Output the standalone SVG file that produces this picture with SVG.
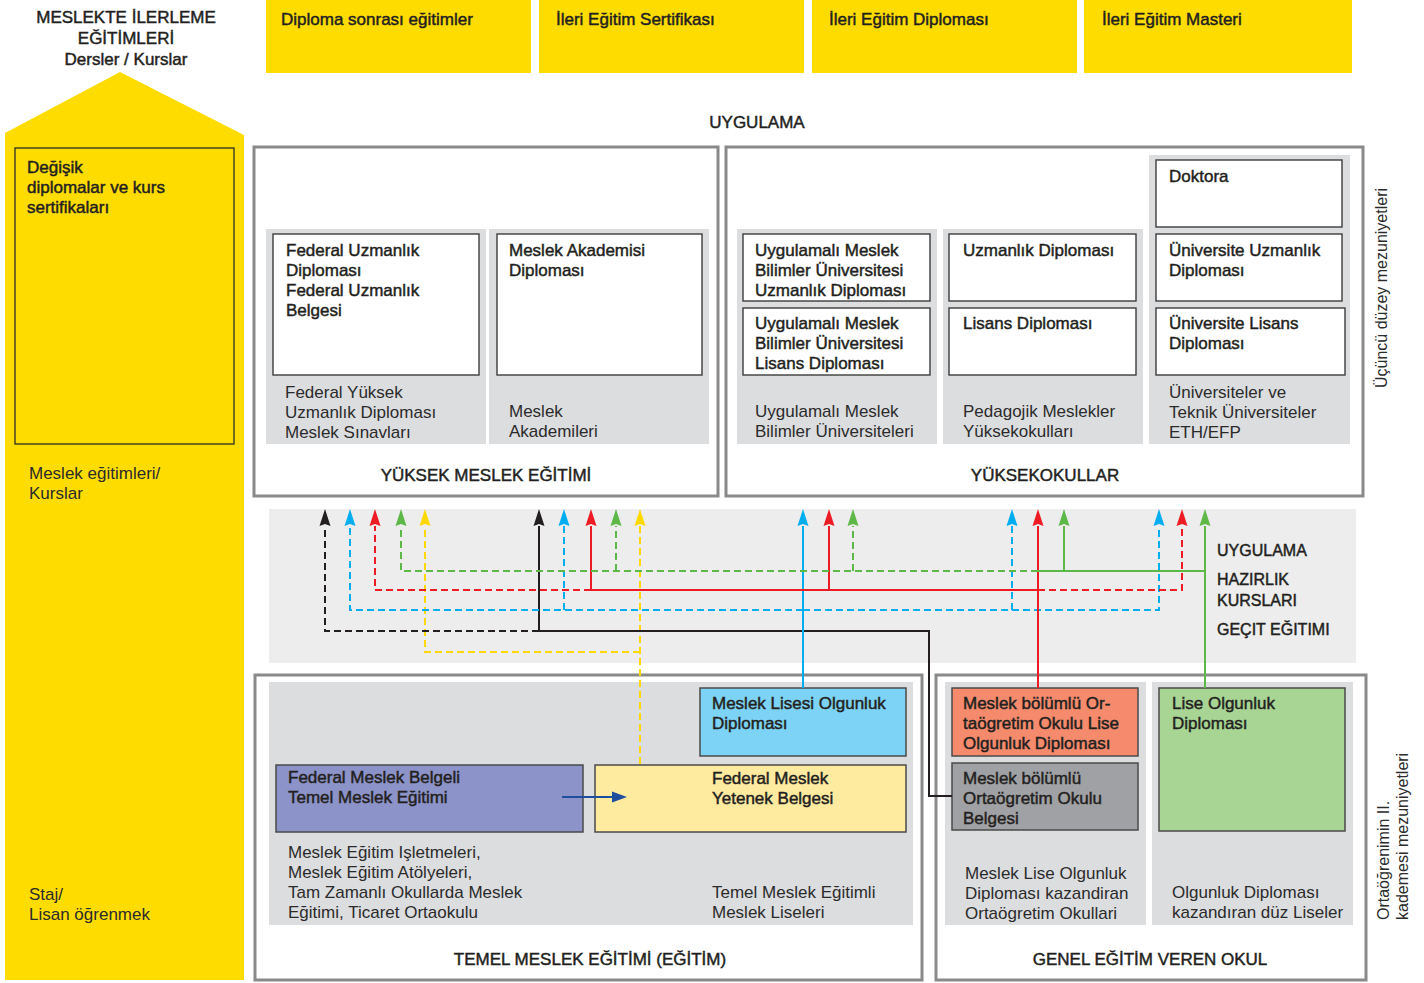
<svg xmlns="http://www.w3.org/2000/svg" width="1424" height="983" viewBox="0 0 1424 983">
<defs>
<style>
text{font-family:"Liberation Sans",Arial,sans-serif;font-size:17px;fill:#231f20}
.m{stroke:#231f20;stroke-width:0.45}
.r{fill:#2b2b2b}
.c{text-anchor:middle}
.s16{font-size:16px}
.frame{fill:#fff;stroke:#8a8a8a;stroke-width:3}
.panel{fill:#dcdddf}
.wbox{fill:#fff;stroke:#3c3c3c;stroke-width:1.4}
.cbox{stroke:#4a4a4a;stroke-width:1.5}
.ln{fill:none;stroke-width:2}
.d{stroke-dasharray:7 4}
.k{stroke:#231f20}.b{stroke:#00aeef}.rd{stroke:#ed1c24}.g{stroke:#5db847}.y{stroke:#ffd800}
</style>
<marker id="ak" viewBox="0 0 17 12" refX="0" refY="6" markerWidth="17" markerHeight="12" markerUnits="userSpaceOnUse" orient="auto"><path d="M0,0.5 L17,6 L0,11.5 L2,6 Z" fill="#231f20"/></marker>
<marker id="ab" viewBox="0 0 17 12" refX="0" refY="6" markerWidth="17" markerHeight="12" markerUnits="userSpaceOnUse" orient="auto"><path d="M0,0.5 L17,6 L0,11.5 L2,6 Z" fill="#00aeef"/></marker>
<marker id="ar" viewBox="0 0 17 12" refX="0" refY="6" markerWidth="17" markerHeight="12" markerUnits="userSpaceOnUse" orient="auto"><path d="M0,0.5 L17,6 L0,11.5 L2,6 Z" fill="#ed1c24"/></marker>
<marker id="ag" viewBox="0 0 17 12" refX="0" refY="6" markerWidth="17" markerHeight="12" markerUnits="userSpaceOnUse" orient="auto"><path d="M0,0.5 L17,6 L0,11.5 L2,6 Z" fill="#5db847"/></marker>
<marker id="ay" viewBox="0 0 17 12" refX="0" refY="6" markerWidth="17" markerHeight="12" markerUnits="userSpaceOnUse" orient="auto"><path d="M0,0.5 L17,6 L0,11.5 L2,6 Z" fill="#ffd800"/></marker>
<marker id="an" viewBox="0 0 15 12" refX="0" refY="6" markerWidth="15" markerHeight="12" markerUnits="userSpaceOnUse" orient="auto"><path d="M0,0.5 L15,6 L0,11.5 Z" fill="#1f4e9e"/></marker>
</defs>
<rect width="1424" height="983" fill="#fff"/>

<!-- left yellow column -->
<g id="left-column">
<path d="M5,133 L120,72 L244,135 L244,980 L5,980 Z" fill="#ffdc00"/>
<text class="m c" x="126" y="23">MESLEKTE İLERLEME</text>
<text class="m c" x="126" y="44">EĞİTİMLERİ</text>
<text class="m c" x="126" y="65">Dersler / Kurslar</text>
</g>
<g id="node-degisik">
<rect x="15" y="148" width="219" height="296" fill="none" stroke="#2b2b2b" stroke-width="1.3"/>
<text class="m" x="27" y="173">Değişik</text>
<text class="m" x="27" y="193">diplomalar ve kurs</text>
<text class="m" x="27" y="213">sertifikaları</text>
</g>
<g id="label-meslek-egitimleri">
<text class="r" x="29" y="479">Meslek eğitimleri/</text>
<text class="r" x="29" y="499">Kurslar</text>
</g>
<g id="label-staj">
<text class="r" x="29" y="900">Staj/</text>
<text class="r" x="29" y="920">Lisan öğrenmek</text>
</g>

<!-- top yellow boxes -->
<g id="node-diploma-sonrasi"><rect x="266" y="0" width="265" height="73" fill="#ffdc00"/><text class="m" x="281" y="25">Diploma sonrası eğitimler</text></g>
<g id="node-ileri-sertifika"><rect x="539" y="0" width="265" height="73" fill="#ffdc00"/><text class="m" x="556" y="25">İleri Eğitim Sertifikası</text></g>
<g id="node-ileri-diploma"><rect x="812" y="0" width="265" height="73" fill="#ffdc00"/><text class="m" x="829" y="25">İleri Eğitim Diploması</text></g>
<g id="node-ileri-master"><rect x="1084" y="0" width="268" height="73" fill="#ffdc00"/><text class="m" x="1102" y="25">İleri Eğitim Masteri</text></g>

<text class="m c" x="757" y="128">UYGULAMA</text>

<!-- Yüksek Meslek Eğitimi -->
<g id="group-yuksek-meslek">
<rect class="frame" x="254" y="147" width="464" height="349"/>
<rect class="panel" x="266" y="229" width="220" height="215"/>
<rect class="panel" x="489" y="229" width="220" height="215"/>
<text class="m c" x="486" y="481">YÜKSEK MESLEK EĞİTİMİ</text>
<text class="r" x="285" y="398">Federal Yüksek</text>
<text class="r" x="285" y="418">Uzmanlık Diploması</text>
<text class="r" x="285" y="438">Meslek Sınavları</text>
<text class="r" x="509" y="417">Meslek</text>
<text class="r" x="509" y="437">Akademileri</text>
</g>
<g id="node-federal-uzmanlik">
<rect class="wbox" x="273" y="234" width="206" height="141"/>
<text class="m" x="286" y="256">Federal Uzmanlık</text>
<text class="m" x="286" y="276">Diploması</text>
<text class="m" x="286" y="296">Federal Uzmanlık</text>
<text class="m" x="286" y="316">Belgesi</text>
</g>
<g id="node-meslek-akademisi">
<rect class="wbox" x="497" y="234" width="205" height="141"/>
<text class="m" x="509" y="256">Meslek Akademisi</text>
<text class="m" x="509" y="276">Diploması</text>
</g>

<!-- Yüksekokullar -->
<g id="group-yuksekokullar">
<rect class="frame" x="726" y="147" width="637" height="349"/>
<rect class="panel" x="737" y="229" width="200" height="215"/>
<rect class="panel" x="943" y="229" width="200" height="215"/>
<rect class="panel" x="1149" y="155" width="201" height="289"/>
<text class="m c" x="1045" y="481">YÜKSEKOKULLAR</text>
<text class="r" x="755" y="417">Uygulamalı Meslek</text>
<text class="r" x="755" y="437">Bilimler Üniversiteleri</text>
<text class="r" x="963" y="417">Pedagojik Meslekler</text>
<text class="r" x="963" y="437">Yüksekokulları</text>
<text class="r" x="1169" y="398">Üniversiteler ve</text>
<text class="r" x="1169" y="418">Teknik Üniversiteler</text>
<text class="r" x="1169" y="438">ETH/EFP</text>
</g>
<g id="node-ums-uzmanlik">
<rect class="wbox" x="743" y="234" width="187" height="67"/>
<text class="m" x="755" y="256">Uygulamalı Meslek</text>
<text class="m" x="755" y="276">Bilimler Üniversitesi</text>
<text class="m" x="755" y="296">Uzmanlık Diploması</text>
</g>
<g id="node-ums-lisans">
<rect class="wbox" x="743" y="308" width="187" height="67"/>
<text class="m" x="755" y="329">Uygulamalı Meslek</text>
<text class="m" x="755" y="349">Bilimler Üniversitesi</text>
<text class="m" x="755" y="369">Lisans Diploması</text>
</g>
<g id="node-uzmanlik-diplomasi">
<rect class="wbox" x="949" y="234" width="187" height="67"/>
<text class="m" x="963" y="256">Uzmanlık Diploması</text>
</g>
<g id="node-lisans-diplomasi">
<rect class="wbox" x="949" y="308" width="187" height="67"/>
<text class="m" x="963" y="329">Lisans Diploması</text>
</g>
<g id="node-doktora">
<rect class="wbox" x="1156" y="160" width="186" height="67"/>
<text class="m" x="1169" y="182">Doktora</text>
</g>
<g id="node-uni-uzmanlik">
<rect class="wbox" x="1156" y="234" width="186" height="67"/>
<text class="m" x="1169" y="256">Üniversite Uzmanlık</text>
<text class="m" x="1169" y="276">Diploması</text>
</g>
<g id="node-uni-lisans">
<rect class="wbox" x="1156" y="308" width="189" height="67"/>
<text class="m" x="1169" y="329">Üniversite Lisans</text>
<text class="m" x="1169" y="349">Diploması</text>
</g>

<text class="r s16" transform="translate(1387,288) rotate(-90)" text-anchor="middle">Üçüncü düzey mezuniyetleri</text>

<!-- middle band -->
<g id="band">
<rect x="269" y="509" width="1087" height="154" fill="#ededed"/>
<text class="m s16" x="1217" y="556">UYGULAMA</text>
<text class="m s16" x="1217" y="585">HAZIRLIK</text>
<text class="m s16" x="1217" y="606">KURSLARI</text>
<text class="m s16" x="1217" y="635">GEÇIT EĞITIMI</text>
</g>

<!-- lower left -->
<g id="group-temel-meslek">
<rect class="frame" x="255" y="675" width="667" height="305"/>
<rect class="panel" x="269" y="682" width="644" height="243"/>
<text class="m c" x="590" y="965">TEMEL MESLEK EĞİTİMİ (EĞİTİM)</text>
<text class="r" x="288" y="858">Meslek Eğitim Işletmeleri,</text>
<text class="r" x="288" y="878">Meslek Eğitim Atölyeleri,</text>
<text class="r" x="288" y="898">Tam Zamanlı Okullarda Meslek</text>
<text class="r" x="288" y="918">Eğitimi, Ticaret Ortaokulu</text>
<text class="r" x="712" y="898">Temel Meslek Eğitimli</text>
<text class="r" x="712" y="918">Meslek Liseleri</text>
</g>
<g id="node-meslek-lisesi-olgunluk">
<rect class="cbox" x="700" y="688" width="206" height="68" fill="#7dd3f5"/>
<text class="m" x="712" y="709">Meslek Lisesi Olgunluk</text>
<text class="m" x="712" y="729">Diploması</text>
</g>
<g id="node-federal-meslek-belgeli">
<rect class="cbox" x="276" y="765" width="307" height="67" fill="#8c93c8"/>
<text class="m" x="288" y="783">Federal Meslek Belgeli</text>
<text class="m" x="288" y="803">Temel Meslek Eğitimi</text>
</g>
<g id="node-federal-meslek-yetenek">
<rect class="cbox" x="595" y="765" width="311" height="67" fill="#ffeba0"/>
<text class="m" x="712" y="784">Federal Meslek</text>
<text class="m" x="712" y="804">Yetenek Belgesi</text>
</g>

<!-- lower right -->
<g id="group-genel-egitim">
<rect class="frame" x="936" y="675" width="430" height="305"/>
<rect class="panel" x="945" y="682" width="201" height="243"/>
<rect class="panel" x="1152" y="682" width="201" height="243"/>
<text class="m c" x="1150" y="965">GENEL EĞİTİM VEREN OKUL</text>
<text class="r" x="965" y="879">Meslek Lise Olgunluk</text>
<text class="r" x="965" y="899">Diploması kazandiran</text>
<text class="r" x="965" y="919">Ortaögretim Okullari</text>
<text class="r" x="1172" y="898">Olgunluk Diploması</text>
<text class="r" x="1172" y="918">kazandıran düz Liseler</text>
</g>
<g id="node-meslek-bolumlu-lise">
<rect class="cbox" x="952" y="688" width="186" height="68" fill="#f58a6c"/>
<text class="m" x="963" y="709">Meslek bölümlü Or-</text>
<text class="m" x="963" y="729">taögretim Okulu Lise</text>
<text class="m" x="963" y="749">Olgunluk Diploması</text>
</g>
<g id="node-meslek-bolumlu-belge">
<rect class="cbox" x="952" y="763" width="186" height="67" fill="#a0a1a4"/>
<text class="m" x="963" y="784">Meslek bölümlü</text>
<text class="m" x="963" y="804">Ortaögretim Okulu</text>
<text class="m" x="963" y="824">Belgesi</text>
</g>
<g id="node-lise-olgunluk">
<rect class="cbox" x="1159" y="688" width="186" height="143" fill="#a8d594"/>
<text class="m" x="1172" y="709">Lise Olgunluk</text>
<text class="m" x="1172" y="729">Diploması</text>
</g>

<g id="label-ortaogrenim">
<text class="r s16" transform="translate(1389,920) rotate(-90)">Ortaöğrenimin II.</text>
<text class="r s16" transform="translate(1408,920) rotate(-90)">kademesi mezuniyetleri</text>
</g>

<!-- connectors -->
<g id="connectors">
<!-- yellow -->
<path class="ln y d" d="M640,764 V526" marker-end="url(#ay)"/>
<path class="ln y d" d="M640,652 H425 V526" marker-end="url(#ay)"/>
<!-- black -->
<path class="ln k" d="M952,796 H929 V631 H539 V526" marker-end="url(#ak)"/>
<path class="ln k d" d="M539,631 H325 V526" marker-end="url(#ak)"/>
<!-- blue -->
<path class="ln b d" d="M803,610 H350 V526" marker-end="url(#ab)"/>
<path class="ln b d" d="M803,610 H1159 V526" marker-end="url(#ab)"/>
<path class="ln b d" d="M564,610 V526" marker-end="url(#ab)"/>
<path class="ln b d" d="M1012,610 V526" marker-end="url(#ab)"/>
<path class="ln b" d="M803,688 V526" marker-end="url(#ab)"/>
<!-- red -->
<path class="ln rd d" d="M591,590 H375 V526" marker-end="url(#ar)"/>
<path class="ln rd d" d="M1038,590 H1182 V526" marker-end="url(#ar)"/>
<path class="ln rd" d="M1038,590 H591 V526" marker-end="url(#ar)"/>
<path class="ln rd" d="M829,590 V526" marker-end="url(#ar)"/>
<path class="ln rd" d="M1038,688 V526" marker-end="url(#ar)"/>
<!-- green -->
<path class="ln g d" d="M1038,571 H401 V526" marker-end="url(#ag)"/>
<path class="ln g d" d="M616,571 V526" marker-end="url(#ag)"/>
<path class="ln g d" d="M853,571 V526" marker-end="url(#ag)"/>
<path class="ln g" d="M1205,571 H1038"/>
<path class="ln g" d="M1064,571 V526" marker-end="url(#ag)"/>
<path class="ln g" d="M1205,688 V526" marker-end="url(#ag)"/>
<!-- blue small arrow -->
<path class="ln" stroke="#1f4e9e" d="M562,797 H612" marker-end="url(#an)"/>
</g>
</svg>
